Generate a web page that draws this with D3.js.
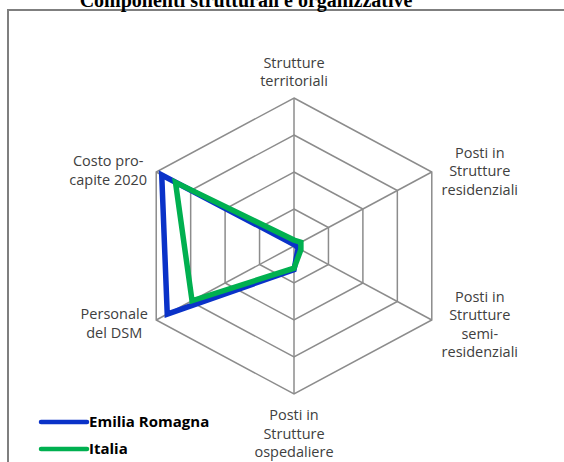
<!DOCTYPE html>
<html>
<head>
<meta charset="utf-8">
<script src="https://cdn.jsdelivr.net/npm/d3@7"></script>
<style>
  body { margin: 0; background: #fff; }
  svg { display: block; }
</style>
</head>
<body>
<div id="chart"></div>
<script>
// axes clockwise from the top
const axisNames = [
  ["Strutture", "territoriali"],
  ["Posti in", "Strutture", "residenziali"],
  ["Posti in", "Strutture", "semi-", "residenziali"],
  ["Posti in", "Strutture", "ospedaliere"],
  ["Personale", "del DSM"],
  ["Costo pro-", "capite 2020"]
];
const seriesNames = ["Emilia Romagna", "Italia"];
const emiliaRomagna = [1, 1, 3, 16, 92, 96];
const italia = [4, 5, 5, 15, 74, 86];
const ringTicks = [25, 50, 75, 100];

const width = 564, height = 462;
const cx = 294, cy = 246;
const stretchX = 1.075; // excel drew the hexagon a bit wider than tall

const svg = d3.select("#chart").append("svg")
  .attr("width", width)
  .attr("height", height);

// chart frame
svg.append("rect")
  .attr("x", 8).attr("y", 10)
  .attr("width", 600).attr("height", 500)
  .attr("fill", "none")
  .attr("stroke", "#7f7f7f")
  .attr("stroke-width", 2);

// title (cut off at the top in the original)
svg.append("text")
  .attr("x", 246).attr("y", 7)
  .attr("text-anchor", "middle")
  .style("font-family", "'Liberation Serif', 'Times New Roman', serif")
  .style("font-weight", "bold")
  .style("font-size", "20px")
  .text("Componenti strutturali e organizzative");

const r = d3.scaleLinear().domain([0, 100]).range([0, 148]);
const angle = d3.scaleLinear().domain([0, axisNames.length]).range([0, 2 * Math.PI]);

function pt(i, v) {
  const a = angle(i);
  return [cx + stretchX * r(v) * Math.sin(a), cy - r(v) * Math.cos(a)];
}

const g = svg.append("g");

// rings
const line = d3.line().curve(d3.curveLinearClosed);
ringTicks.forEach(t => {
  g.append("path")
    .attr("d", line(axisNames.map((d, i) => pt(i, t))))
    .attr("fill", "none")
    .attr("stroke", "#8c8c8c")
    .attr("stroke-width", 1.5);
});

// spokes
axisNames.forEach((d, i) => {
  const p = pt(i, 100);
  g.append("line")
    .attr("x1", cx).attr("y1", cy)
    .attr("x2", p[0]).attr("y2", p[1])
    .attr("stroke", "#8c8c8c")
    .attr("stroke-width", 1.5);
});

// axis labels
const labelFont = "'Open Sans', 'Noto Sans', sans-serif";
const lh = 18.5;
axisNames.forEach((lines, i) => {
  const p = pt(i, 100);
  let x, y0;
  if (i === 0) { x = p[0]; y0 = p[1] - 12 - (lines.length - 1) * lh; }
  else if (i === 3) { x = p[0]; y0 = p[1] + 26; }
  else if (i === 1 || i === 2) { x = p[0] + 48; y0 = p[1] + 4 - (i === 1 ? lh : 1.2 * lh); }
  else { x = p[0] - (i === 4 ? 42 : 48); y0 = p[1] + (i === 4 ? -1 : -6); }
  const t = g.append("text")
    .attr("text-anchor", "middle")
    .style("font-family", labelFont)
    .style("font-size", "14.5px")
    .style("fill", "#404040");
  lines.forEach((s, k) => {
    t.append("tspan").attr("x", x).attr("y", y0 + k * lh).text(s);
  });
});

// series
const colors = ["#0a32c8", "#00b050"];
[emiliaRomagna, italia].forEach((vals, si) => {
  g.append("path")
    .attr("d", line(vals.map((v, i) => pt(i, v))))
    .attr("fill", "none")
    .attr("stroke", colors[si])
    .attr("stroke-width", 5.5)
    .attr("stroke-linejoin", "miter");
});

// legend
const leg = svg.append("g");
seriesNames.forEach((name, si) => {
  const y = 422 + si * 27;
  leg.append("line")
    .attr("x1", 41).attr("x2", 87)
    .attr("y1", y).attr("y2", y)
    .attr("stroke", colors[si])
    .attr("stroke-width", 4.5)
    .attr("stroke-linecap", "round");
  leg.append("text")
    .attr("x", 89).attr("y", y + 5)
    .style("font-family", labelFont)
    .style("font-weight", "bold")
    .style("font-size", "15px")
    .style("fill", "#000")
    .text(name);
});
</script>
</body>
</html>
